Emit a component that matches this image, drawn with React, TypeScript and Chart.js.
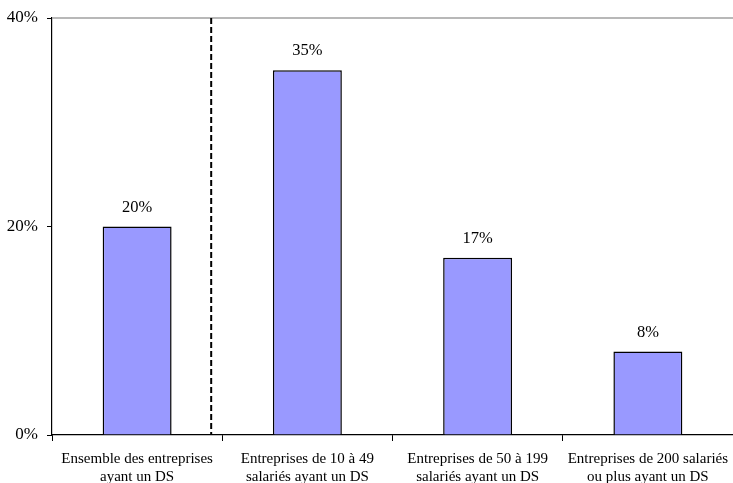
import React, { useEffect, useRef } from "react";
import { Chart, registerables } from "chart.js";

Chart.register(...registerables);

const categories: string[][] = [
  ["Ensemble des entreprises", "ayant un DS"],
  ["Entreprises de 10 à 49", "salariés ayant un DS"],
  ["Entreprises de 50 à 199", "salariés ayant un DS"],
  ["Entreprises de 200 salariés", "ou plus ayant un DS"],
];
const values: number[] = [20, 35, 17, 8];
const yTicks: number[] = [0, 20, 40];

const FONT = "'Liberation Serif', 'Times New Roman', serif";

const overlayPlugin = {
  id: "overlay",
  afterDatasetsDraw(chart: any) {
    const { ctx, chartArea, scales } = chart;
    const x = scales.x;
    ctx.save();
    // top border line
    ctx.strokeStyle = "#a0a0a0";
    ctx.lineWidth = 1.5;
    ctx.beginPath();
    ctx.moveTo(chartArea.left, chartArea.top);
    ctx.lineTo(chartArea.right, chartArea.top);
    ctx.stroke();
    // dashed separator
    const p0 = x.getPixelForValue(0);
    const p1 = x.getPixelForValue(1);
    const dx = p0 + (p1 - p0) * 0.435;
    ctx.strokeStyle = "#000";
    ctx.lineWidth = 2;
    ctx.setLineDash([6, 3]);
    ctx.beginPath();
    ctx.moveTo(dx, chartArea.top);
    ctx.lineTo(dx, chartArea.bottom);
    ctx.stroke();
    ctx.setLineDash([]);
    // data labels
    const meta = chart.getDatasetMeta(0);
    ctx.fillStyle = "#000";
    ctx.font = `16.5px ${FONT}`;
    ctx.textAlign = "center";
    ctx.textBaseline = "middle";
    meta.data.forEach((bar: any, i: number) => {
      ctx.fillText(`${values[i]}%`, bar.x, bar.y - 19);
    });
    ctx.restore();
  },
};

export default function App() {
  const ref = useRef<HTMLCanvasElement>(null);
  useEffect(() => {
    document.body.style.margin = "0";
    const chart = new Chart(ref.current!, {
      type: "bar",
      data: {
        labels: categories,
        datasets: [
          {
            data: values,
            backgroundColor: "#9999FF",
            borderColor: "#000",
            borderWidth: 1.5,
            categoryPercentage: 1,
            barPercentage: 0.405,
          },
        ],
      },
      options: {
        animation: false,
        responsive: false,
        maintainAspectRatio: false,
        layout: { padding: { top: 18, right: 0, left: 0, bottom: 0 } },
        plugins: { legend: { display: false }, tooltip: { enabled: false } },
        scales: {
          x: {
            grid: {
              offset: true,
              drawOnChartArea: false,
              drawTicks: true,
              tickLength: 6,
              color: "#000",
            },
            border: { display: true, color: "#000", width: 1.2 },
            ticks: {
              color: "#000",
              font: { family: FONT, size: 15, lineHeight: 1.2 },
              padding: 9,
              maxRotation: 0,
              autoSkip: false,
            },
            afterFit(scale: any) {
              scale.height = 48;
              scale.paddingRight = 0;
              scale.paddingLeft = 0;
            },
          },
          y: {
            min: 0,
            max: 40,
            afterBuildTicks(scale: any) {
              scale.ticks = yTicks.map((v) => ({ value: v }));
            },
            grid: {
              drawOnChartArea: false,
              drawTicks: true,
              tickLength: 5,
              color: "#000",
            },
            border: { display: true, color: "#000", width: 1.2 },
            ticks: {
              color: "#000",
              font: { family: FONT, size: 17 },
              padding: 9,
              callback: (v: any) => `${v}%`,
            },
            afterFit(scale: any) {
              scale.width = 52;
              scale.paddingTop = 0;
              scale.paddingBottom = 0;
            },
          },
        },
      },
      plugins: [overlayPlugin],
    });
    return () => chart.destroy();
  }, []);
  return (
    <div style={{ width: 733, height: 483, background: "#fff" }}>
      <canvas ref={ref} width={733} height={483} style={{ display: "block" }} />
    </div>
  );
}
